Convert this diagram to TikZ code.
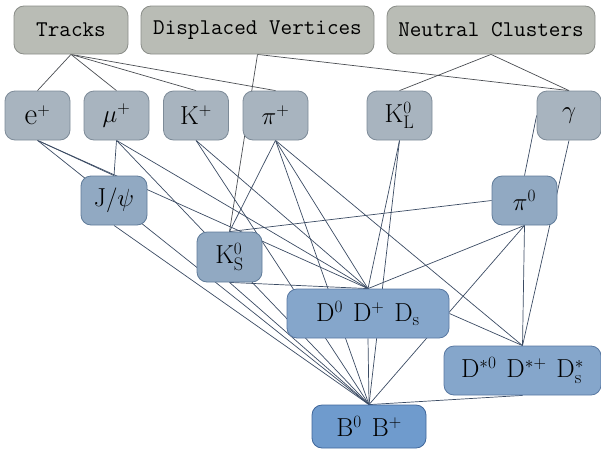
\documentclass[tikz,border=0pt]{standalone}
\usepackage{fontspec}
\usetikzlibrary{backgrounds}
\definecolor{topfill}{HTML}{B9BCB5}
\definecolor{topdraw}{HTML}{8A8D88}
\definecolor{partfill}{HTML}{A8B4BF}
\definecolor{partdraw}{HTML}{7D8B98}
\definecolor{midfill}{HTML}{91A9C2}
\definecolor{middraw}{HTML}{5F7B99}
\definecolor{dfill}{HTML}{85A6CB}
\definecolor{ddraw}{HTML}{5878A2}
\definecolor{bfill}{HTML}{6F9BCD}
\definecolor{bdraw}{HTML}{3F669A}
\definecolor{edgecol}{HTML}{3B4B63}
\definecolor{topedge}{HTML}{4A4D52}
\newcommand{\gap}{\hspace{10pt}}
\tikzset{
  box/.style={rounded corners=10pt, line width=0.8pt, inner sep=0pt, minimum height=49pt},
  topbox/.style={box, fill=topfill, draw=topdraw, minimum height=48pt, font=\fontsize{22.5}{26}\selectfont\ttfamily},
  partbox/.style={box, fill=partfill, draw=partdraw, minimum width=65pt, font=\fontsize{26}{30}\selectfont},
  midbox/.style={box, fill=midfill, draw=middraw, minimum width=65pt, font=\fontsize{26}{30}\selectfont},
  dbox/.style={box, fill=dfill, draw=ddraw, font=\fontsize{26}{30}\selectfont},
  bbox/.style={box, fill=bfill, draw=bdraw, font=\fontsize{26}{30}\selectfont},
  link/.style={draw=edgecol, line width=0.7pt},
  toplink/.style={draw=topedge, line width=0.7pt}
}
\begin{document}
\begin{tikzpicture}[x=1pt,y=-1pt]
\useasboundingbox (0,0) rectangle (601,450);
% top
\node[topbox, minimum width=114pt] (tracks) at (71,30) {Tracks};
\node[topbox, minimum width=233pt] (dv) at (257.5,30) {Displaced Vertices};
\node[topbox, minimum width=208pt] (nc) at (491,30) {Neutral Clusters};
% particles
\node[partbox] (ep) at (37.5,115.5) {$\mbox{\fontsize{31}{31}\selectfont e}^{+}$};
\node[partbox] (mu) at (116.5,115.5) {$\mu^{+}$};
\node[partbox] (kp) at (196,115.5) {$\mathrm{K}^{+}$};
\node[partbox] (pip) at (275.5,115.5) {$\pi^{+}$};
\node[partbox] (kl) at (399.5,115.5) {$\mathrm{K}^{0}_{\mathrm{L}}$};
\node[partbox, minimum width=64pt] (ga) at (569,115.5) {$\gamma$};
% intermediate
\node[midbox, minimum width=66pt] (jpsi) at (114,200.5) {$\mathrm{J}/\psi$};
\node[midbox] (pi0) at (524.5,200.5) {$\pi^{0}$};
\node[midbox, minimum height=50pt] (ks) at (229.5,257) {$\mathrm{K}^{0}_{\mathrm{S}}$};
\node[dbox, minimum width=162pt] (dd) at (368,313.5) {$\mathrm{D}^{0}\gap\mathrm{D}^{+}\gap\mathrm{D}_{\mathrm{s}}$};
\node[dbox, minimum width=157pt] (dst) at (522.5,370.5) {$\mathrm{D}^{*0}\gap\mathrm{D}^{*+}\gap\mathrm{D}^{*}_{\mathrm{s}}$};
\node[bbox, minimum width=114pt, minimum height=43pt] (bb) at (369,426.5) {$\mathrm{B}^{0}\gap\mathrm{B}^{+}$};
\begin{scope}[on background layer]
% from detector objects
\foreach \t in {ep,mu,kp,pip} \draw[toplink] (tracks.south) -- (\t.north);
\draw[toplink] (dv.south) -- (ks.north);
\draw[toplink] (dv.south) -- (ga.north);
\draw[toplink] (nc.south) -- (kl.north);
\draw[toplink] (nc.south) -- (ga.north);
% leptons
\foreach \t in {jpsi,dd,bb} {
  \draw[link] (ep.south) -- (\t.north);
  \draw[link] (mu.south) -- (\t.north);
}
% kaons, pions
\draw[link] (kp.south) -- (dd.north);
\draw[link] (kp.south) -- (bb.north);
\draw[link] (pip.south) -- (ks.north);
\draw[link] (pip.south) -- (dd.north);
\draw[link] (pip.south) -- (dst.north);
\draw[link] (pip.south) -- (bb.north);
\draw[link] (kl.south) -- (dd.north);
\draw[link] (kl.south) -- (bb.north);
% photons
\draw[link] (ga.west) -- (pi0.north);
\draw[link] (ga.south) -- (dst.north);
\draw[link] (pi0.west) -- (ks.north);
\draw[link] (pi0.south) -- (dd.north);
\draw[link] (pi0.south) -- (dst.north);
\draw[link] (pi0.south) -- (bb.north);
% composites
\draw[link] (jpsi.south) -- (bb.north);
\draw[link] (ks.south) -- (dd.north);
\draw[link] (ks.south) -- (bb.north);
\draw[link] (dd.east) -- (dst.north);
\draw[link] (dd.south) -- (bb.north);
\draw[link] (dst.south) -- (bb.north);
\end{scope}
\end{tikzpicture}
\end{document}
